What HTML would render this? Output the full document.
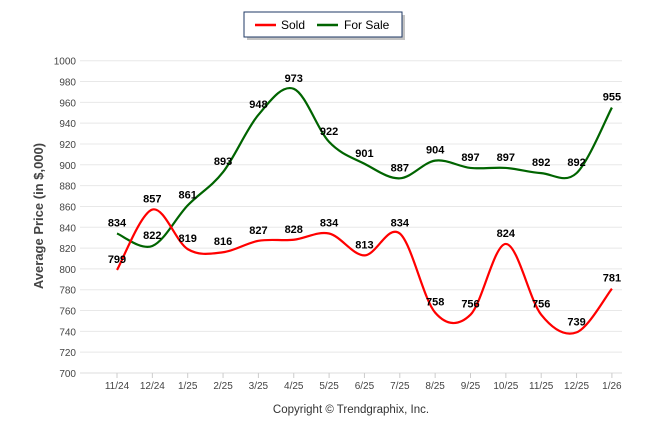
<!DOCTYPE html>
<html><head><meta charset="utf-8"><style>
body{margin:0;background:#fff;font-family:"Liberation Sans",Arial,sans-serif}
svg{display:block}
</style></head><body>
<svg id="chart" width="646" height="434">
<g>
<rect x="247" y="15" width="158" height="25" fill="#888" opacity="0.5"/>
<rect x="244" y="12" width="158" height="25" fill="#fff" stroke="#1f3864" stroke-width="1"/>
<line x1="255" y1="25" x2="276" y2="25" stroke="#ff0000" stroke-width="2.5"/>
<text x="281" y="29" font-size="12" fill="#000">Sold</text>
<line x1="317" y1="25" x2="338" y2="25" stroke="#006400" stroke-width="2.5"/>
<text x="344" y="29" font-size="12" fill="#000">For Sale</text>
</g>
<text transform="translate(43,216) rotate(-90)" text-anchor="middle" font-size="13" font-weight="bold" fill="#444">Average Price (in $,000)</text>
<text x="351" y="413" text-anchor="middle" font-size="11.5" fill="#333">Copyright © Trendgraphix, Inc.</text>
<g id="grid"></g><g id="series"></g><g id="labels"></g>
</svg>
<script>
const categories=["11/24","12/24","1/25","2/25","3/25","4/25","5/25","6/25","7/25","8/25","9/25","10/25","11/25","12/25","1/26"];
const sold=[799,857,819,816,827,828,834,813,834,758,756,824,756,739,781];
const forSale=[834,822,861,893,948,973,922,901,887,904,897,897,892,892,955];
const yTicks=[700,720,740,760,780,800,820,840,860,880,900,920,940,960,980,1000];
const NS="http://www.w3.org/2000/svg";
const X=i=>117+i*35.35;
const Y=v=>373-(v-700)*(312.3/300);
const grid=document.getElementById('grid'),ser=document.getElementById('series'),lab=document.getElementById('labels');
function mk(t,a,p){const e=document.createElementNS(NS,t);for(const k in a)e.setAttribute(k,a[k]);p.appendChild(e);return e;}
yTicks.forEach(v=>{
 const l=mk('line',{x1:80,x2:622,y1:Y(v),y2:Y(v),stroke:'#e8e8e8'},grid);
 
 
 const t=mk('text',{x:76,y:Y(v)+4,'text-anchor':'end','font-size':'10',fill:'#444'},grid);
 t.textContent=v;
 
 
});
mk('line',{x1:80,x2:622,y1:373,y2:373,stroke:'#ddd'},grid);
categories.forEach((c,i)=>{
 mk('line',{x1:X(i),x2:X(i),y1:373,y2:378,stroke:'#ccc'},grid);
 const t=mk('text',{x:X(i),y:389,'text-anchor':'middle','font-size':'10',fill:'#444'},grid);
 t.textContent=c;
 
 
});
function path(vals){
 const p=vals.map((v,i)=>[X(i),Y(v)]);let d=`M${p[0][0]},${p[0][1]}`;
 for(let i=0;i<p.length-1;i++){const p0=p[i-1]||p[i],p1=p[i],p2=p[i+1],p3=p[i+2]||p2;
  d+=` C${p1[0]+(p2[0]-p0[0])/6},${p1[1]+(p2[1]-p0[1])/6} ${p2[0]-(p3[0]-p1[0])/6},${p2[1]-(p3[1]-p1[1])/6} ${p2[0]},${p2[1]}`;}
 return d;}
const fs=mk('path',{d:path(forSale),fill:'none',stroke:'#006400','stroke-width':2.2},ser);


const sd=mk('path',{d:path(sold),fill:'none',stroke:'#ff0000','stroke-width':2.2},ser);


[[forSale,'for-sale-value'],[sold,'sold-value']].forEach(([arr,n])=>arr.forEach((v,i)=>{
 const t=mk('text',{x:X(i),y:Y(v)-7,'text-anchor':'middle','font-size':'11','font-weight':'bold',fill:'#000'},lab);
 t.textContent=v;
 
 
}));
</script>
</body></html>
